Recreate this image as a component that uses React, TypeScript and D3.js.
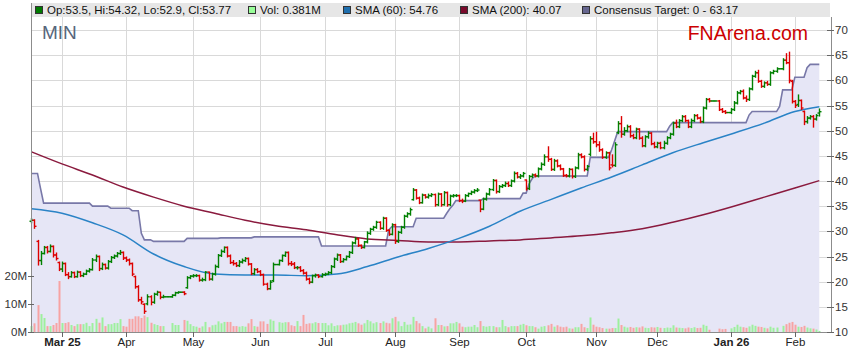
import * as d3 from "d3";

// first bar of the window; bars are weekdays (holidays show as flat bars)
const START = "2025-02-17";

const opens = [
  32.0, 32.2, 28.0, 24.2, 25.6, 26.8, 26.0, 27.0, 25.3, 23.8,
  22.5, 23.6, 21.4, 21.0, 21.8, 21.0, 21.9, 21.2, 21.5, 22.1,
  22.4, 24.3, 25.0, 22.6, 23.4, 22.7, 24.0, 24.8, 25.1, 25.6,
  25.8, 24.7, 24.3, 23.6, 21.0, 19.0, 16.4, 15.5, 15.6, 17.0,
  15.9, 17.5, 17.9, 16.9, 17.0, 17.0, 17.0, 17.3, 17.8, 17.9,
  17.9, 18.8, 20.8, 21.1, 21.2, 21.2, 20.3, 20.4, 21.9, 20.5,
  21.5, 23.0, 25.2, 26.0, 26.8, 25.1, 23.8, 23.6, 23.2, 23.9,
  24.2, 24.6, 23.5, 21.6, 22.4, 22.0, 21.4, 19.5, 18.6, 20.2,
  23.4, 23.4, 24.2, 25.2, 25.8, 23.6, 23.5, 22.8, 22.8, 22.2,
  21.7, 20.5, 19.9, 21.2, 21.3, 21.0, 21.4, 21.5, 21.8, 23.0,
  24.5, 25.3, 24.0, 24.4, 25.0, 25.8, 27.7, 28.5, 27.2, 26.8,
  27.9, 29.6, 30.4, 30.8, 31.8, 30.6, 32.6, 30.2, 29.4, 31.3,
  28.0, 29.8, 30.8, 33.0, 33.5, 36.3, 38.2, 36.6, 35.7, 37.2,
  36.8, 37.1, 37.3, 35.3, 37.4, 35.3, 37.7, 35.3, 37.0, 37.1,
  37.1, 36.1, 36.0, 37.1, 37.5, 37.8, 38.1, 36.2, 34.4, 36.4,
  37.4, 38.3, 40.1, 37.9, 38.9, 39.1, 39.5, 39.1, 40.0, 41.5,
  40.8, 41.0, 40.2, 38.5, 40.9, 41.2, 41.0, 42.4, 43.3, 44.8,
  44.3, 42.3, 44.0, 43.0, 42.4, 41.1, 41.0, 42.3, 40.9, 42.6,
  45.2, 44.8, 42.3, 45.3, 48.4, 47.8, 47.2, 46.2, 44.7, 45.6,
  43.2, 43.1, 49.6, 51.4, 49.3, 50.0, 50.8, 49.0, 48.6, 50.3,
  48.5, 47.0, 48.8, 49.5, 47.4, 46.8, 47.5, 46.6, 47.5, 48.6,
  49.3, 51.5, 50.8, 52.0, 52.8, 52.0, 50.8, 52.0, 53.0, 52.5,
  51.8, 54.5, 56.2, 55.9, 55.9, 55.9, 54.2, 53.8, 53.6, 53.6,
  54.2, 55.5, 57.5, 57.8, 56.5, 56.2, 58.3, 60.8, 61.5, 59.8,
  58.8, 59.5, 59.2, 61.5, 61.8, 62.3, 62.3, 64.0, 63.5, 59.8,
  55.8, 55.2, 56.0, 53.8, 51.8, 52.5, 52.8, 52.3, 53.5,
];

const highs = [
  32.5, 32.3, 28.2, 26.0, 27.0, 27.0, 27.3, 27.1, 25.7, 23.9,
  23.9, 23.7, 21.8, 22.0, 21.9, 22.1, 22.0, 21.7, 22.3, 22.6,
  24.6, 25.3, 25.1, 23.7, 23.5, 24.2, 25.0, 25.3, 25.8, 26.2,
  25.9, 24.9, 24.5, 23.7, 21.1, 19.2, 16.9, 15.6, 17.4, 17.2,
  17.7, 18.1, 17.9, 17.3, 17.0, 17.0, 17.4, 17.9, 18.0, 17.9,
  18.0, 21.0, 21.2, 21.4, 21.4, 21.3, 20.7, 22.0, 21.9, 21.7,
  23.3, 25.4, 26.3, 26.9, 26.9, 25.3, 24.2, 23.8, 24.2, 24.5,
  24.8, 24.7, 23.6, 22.6, 22.6, 22.2, 21.5, 19.7, 20.2, 23.7,
  23.4, 24.3, 25.3, 25.9, 25.9, 24.0, 23.8, 23.0, 23.0, 22.4,
  21.9, 20.7, 21.3, 21.5, 21.4, 21.6, 21.7, 22.0, 23.2, 24.7,
  25.5, 25.4, 24.6, 25.1, 26.0, 27.9, 28.8, 28.6, 27.3, 28.0,
  29.9, 30.6, 31.0, 32.0, 31.9, 32.8, 32.7, 30.3, 31.5, 31.4,
  30.0, 31.0, 33.2, 33.7, 34.6, 38.5, 38.3, 36.8, 37.4, 37.3,
  37.4, 37.5, 37.4, 37.6, 37.5, 37.9, 37.8, 37.2, 37.3, 37.3,
  37.2, 36.4, 37.3, 37.6, 38.0, 38.3, 38.5, 36.2, 36.6, 37.6,
  38.5, 40.3, 40.2, 39.1, 39.3, 39.8, 39.8, 40.2, 41.8, 41.7,
  41.3, 41.7, 40.2, 41.1, 41.4, 41.4, 42.6, 43.6, 45.2, 46.8,
  44.5, 44.3, 44.2, 43.2, 42.5, 41.3, 42.5, 42.4, 42.8, 45.5,
  45.4, 45.0, 43.1, 48.8, 49.5, 49.7, 47.8, 46.4, 45.8, 45.7,
  45.2, 47.6, 51.8, 52.8, 50.6, 51.1, 51.0, 49.3, 50.5, 50.4,
  48.8, 49.0, 49.8, 49.6, 47.7, 47.7, 47.7, 47.9, 48.8, 49.5,
  51.7, 52.1, 52.2, 53.0, 53.0, 52.1, 52.3, 53.2, 53.2, 52.7,
  54.7, 56.4, 56.4, 55.9, 55.9, 56.0, 54.4, 54.0, 53.6, 54.4,
  55.8, 57.8, 58.0, 58.1, 56.9, 58.5, 61.0, 61.8, 62.0, 60.0,
  59.7, 59.8, 61.7, 62.0, 62.5, 62.3, 64.3, 65.3, 65.6, 60.0,
  56.0, 57.1, 56.1, 53.9, 52.8, 53.0, 53.0, 53.2, 54.32,
];

const lows = [
  31.7, 30.6, 23.3, 23.4, 25.5, 25.7, 25.9, 24.9, 24.3, 22.2,
  22.0, 21.2, 20.6, 20.9, 20.8, 20.9, 21.0, 21.0, 21.4, 21.9,
  22.3, 24.0, 22.2, 22.4, 22.5, 22.5, 23.8, 24.6, 24.9, 25.4,
  24.4, 24.0, 23.3, 21.2, 18.7, 16.1, 15.6, 13.7, 15.4, 15.4,
  15.7, 17.3, 16.6, 16.8, 17.0, 17.0, 16.9, 17.2, 17.7, 17.9,
  17.4, 18.7, 20.6, 20.9, 21.0, 20.1, 20.1, 20.2, 20.3, 20.3,
  21.3, 22.8, 25.0, 25.8, 24.9, 23.6, 23.3, 23.0, 23.0, 23.7,
  24.0, 23.3, 21.4, 21.4, 21.8, 21.2, 19.3, 18.4, 18.5, 20.0,
  23.4, 23.3, 24.0, 25.0, 23.3, 23.2, 22.6, 22.5, 22.0, 21.5,
  20.3, 19.6, 19.8, 20.9, 20.8, 20.9, 21.2, 21.4, 21.6, 22.8,
  24.2, 23.8, 23.9, 24.3, 24.8, 25.6, 27.5, 27.0, 26.6, 26.7,
  27.7, 29.4, 30.2, 30.6, 30.4, 30.4, 30.0, 29.2, 29.3, 27.6,
  27.8, 29.6, 30.6, 32.8, 33.2, 36.2, 36.4, 35.5, 35.6, 36.6,
  36.6, 36.9, 35.0, 35.1, 35.0, 35.2, 35.0, 35.1, 36.8, 36.9,
  35.9, 35.7, 35.9, 36.9, 37.3, 37.6, 37.9, 33.9, 34.3, 36.2,
  37.2, 38.1, 37.6, 37.7, 38.7, 38.9, 38.9, 38.9, 39.8, 40.6,
  40.5, 40.8, 38.2, 38.3, 40.7, 40.8, 40.8, 42.2, 43.1, 43.9,
  42.1, 42.1, 42.8, 42.2, 40.9, 40.8, 40.8, 40.6, 40.7, 42.4,
  44.6, 42.0, 42.1, 45.0, 47.5, 46.8, 45.9, 44.5, 44.5, 42.2,
  42.8, 42.9, 49.4, 48.7, 49.1, 49.8, 48.7, 48.4, 48.4, 48.3,
  46.8, 46.8, 48.5, 47.2, 46.6, 46.6, 46.4, 46.4, 47.3, 48.4,
  49.1, 50.6, 50.6, 51.8, 51.8, 50.6, 50.6, 51.8, 52.3, 51.6,
  51.6, 54.3, 55.7, 55.9, 55.9, 54.0, 53.6, 53.4, 53.6, 53.4,
  54.0, 55.3, 57.3, 56.3, 55.8, 56.0, 58.1, 60.6, 59.6, 58.6,
  58.6, 59.0, 59.0, 61.3, 61.6, 62.3, 62.1, 63.3, 59.5, 55.5,
  54.6, 54.8, 54.2, 51.2, 51.5, 52.3, 50.7, 52.1, 52.9,
];

const closes = [
  32.2, 31.0, 24.2, 25.6, 26.8, 26.0, 27.0, 25.3, 24.6, 22.5,
  23.6, 21.4, 21.0, 21.8, 21.0, 21.9, 21.2, 21.5, 22.1, 22.4,
  24.3, 25.0, 22.6, 23.4, 22.7, 24.0, 24.8, 25.1, 25.6, 25.8,
  24.7, 24.3, 23.6, 21.5, 19.0, 16.4, 16.0, 14.1, 17.0, 15.9,
  17.5, 17.9, 16.9, 17.0, 17.0, 17.0, 17.3, 17.8, 17.9, 17.9,
  17.6, 20.8, 21.1, 21.2, 21.2, 20.3, 20.4, 21.9, 20.5, 21.5,
  23.0, 25.2, 26.0, 26.8, 25.1, 23.8, 23.6, 23.2, 23.9, 24.2,
  24.6, 23.5, 21.6, 22.4, 22.0, 21.4, 19.5, 18.6, 19.9, 23.4,
  23.4, 24.2, 25.2, 25.8, 23.6, 23.5, 22.8, 22.8, 22.2, 21.7,
  20.5, 19.9, 21.2, 21.3, 21.0, 21.4, 21.5, 21.8, 23.0, 24.5,
  25.3, 24.0, 24.4, 25.0, 25.8, 27.7, 28.5, 27.2, 26.8, 27.9,
  29.6, 30.4, 30.8, 31.8, 30.6, 32.6, 30.2, 29.4, 31.3, 28.0,
  29.8, 30.8, 33.0, 33.5, 34.3, 38.2, 36.6, 35.7, 37.2, 36.8,
  37.1, 37.3, 35.3, 37.4, 35.3, 37.7, 35.3, 37.0, 37.1, 37.1,
  36.1, 36.0, 37.1, 37.5, 37.8, 38.1, 38.2, 34.4, 36.4, 37.4,
  38.3, 40.1, 37.9, 38.9, 39.1, 39.5, 39.1, 40.0, 41.5, 40.8,
  41.0, 41.5, 38.5, 40.9, 41.2, 41.0, 42.4, 43.3, 44.8, 44.3,
  42.3, 44.0, 43.0, 42.4, 41.1, 41.0, 42.3, 40.9, 42.6, 45.2,
  44.8, 42.3, 42.9, 48.4, 47.8, 47.2, 46.2, 44.7, 45.6, 42.6,
  43.1, 47.2, 51.4, 49.3, 50.0, 50.8, 49.0, 48.6, 50.3, 48.5,
  47.0, 48.8, 49.5, 47.4, 46.8, 47.5, 46.6, 47.5, 48.6, 49.3,
  51.5, 50.8, 52.0, 52.8, 52.0, 50.8, 52.0, 53.0, 52.5, 51.8,
  54.5, 56.2, 55.9, 55.9, 55.9, 54.2, 53.8, 53.6, 53.6, 54.2,
  55.5, 57.5, 57.8, 56.5, 56.2, 58.3, 60.8, 61.5, 59.8, 58.8,
  59.5, 59.2, 61.5, 61.8, 62.3, 62.3, 64.0, 63.5, 60.0, 55.8,
  55.0, 56.0, 54.5, 51.8, 52.5, 52.8, 52.3, 53.0, 53.77,
];

// volume in millions of shares
const volumes = [
  2.1, 3.1, 9.6, 6.4, 5.0, 2.1, 2.1, 2.5, 3.2, 18.2,
  3.2, 3.2, 3.5, 2.5, 2.1, 2.8, 2.8, 2.8, 3.3, 2.1,
  3.2, 4.7, 3.3, 5.2, 2.1, 2.8, 2.8, 3.2, 3.2, 4.6,
  2.1, 1.9, 4.7, 4.7, 5.6, 5.6, 5.0, 5.9, 5.3, 3.3,
  2.8, 2.5, 2.1, 2.1, 0, 0, 3.2, 2.5, 2.5, 0,
  4.3, 4.0, 2.8, 2.1, 1.9, 1.5, 2.0, 3.6, 1.7, 2.4,
  2.6, 3.8, 3.1, 3.6, 3.6, 3.6, 2.1, 2.1, 1.9, 2.1,
  1.9, 3.1, 4.6, 2.1, 1.9, 3.8, 3.8, 2.9, 4.5, 4.0,
  0, 3.5, 3.3, 3.5, 3.5, 2.4, 2.1, 3.9, 2.1, 6.1,
  2.9, 3.1, 3.1, 3.5, 3.2, 3.2, 3.2, 2.4, 3.1, 2.1,
  2.4, 2.4, 2.6, 2.7, 3.1, 3.3, 3.6, 3.1, 2.6, 3.1,
  4.3, 3.8, 3.1, 3.5, 3.2, 3.8, 3.3, 3.1, 4.9, 5.4,
  3.8, 2.1, 3.6, 2.6, 2.7, 5.4, 3.9, 3.1, 2.1, 1.3,
  1.9, 1.3, 4.9, 2.5, 2.5, 2.0, 2.1, 3.1, 3.1, 3.6,
  3.1, 1.9, 1.7, 1.9, 1.9, 2.5, 1.7, 3.9, 2.1, 1.9,
  2.1, 2.1, 1.7, 1.7, 4.3, 2.1, 1.7, 2.1, 2.1, 2.1,
  2.6, 2.9, 2.4, 2.1, 2.1, 1.7, 1.2, 1.9, 2.1, 2.4,
  2.9, 1.9, 2.4, 1.9, 1.7, 1.9, 1.3, 1.2, 1.7, 1.7,
  2.9, 1.7, 1.4, 5.2, 2.6, 1.9, 1.7, 1.4, 1.2, 1.2,
  1.4, 1.4, 4.8, 2.5, 1.9, 1.6, 1.8, 1.5, 1.7, 1.6,
  2.0, 1.5, 1.4, 1.7, 1.6, 1.8, 1.5, 1.4, 1.6, 1.5,
  2.4, 1.6, 1.5, 1.4, 1.3, 1.6, 1.4, 1.7, 1.4, 1.5,
  2.6, 2.2, 0.8, 0, 0, 1.2, 1.0, 1.1, 0, 1.3,
  1.8, 2.6, 1.9, 1.7, 1.5, 2.0, 2.6, 2.2, 1.9, 1.8,
  1.5, 1.3, 1.9, 1.5, 1.6, 0, 2.2, 2.8, 3.3, 3.6,
  2.6, 1.9, 1.8, 2.2, 1.6, 1.3, 1.2, 0.9, 0.381,
];

// moving averages read every 10 bars (bar index -> value)
const smaIdx = [0, 10, 20, 30, 40, 50, 60, 70, 80, 90, 100, 110, 120, 130, 140, 150, 160, 170, 180, 190, 200, 210, 220, 230, 240, 250, 258];
const sma60 = [34.5, 33.6, 31.7, 29.3, 25.5, 23.0, 21.5, 21.3, 21.3, 21.2, 21.5, 23.0, 24.9, 26.6, 28.6, 31.0, 34.0, 36.3, 38.6, 40.8, 43.2, 45.6, 47.6, 49.5, 51.5, 53.8, 54.76];
const sma200 = [45.8, 43.4, 41.2, 38.8, 36.8, 35.0, 33.6, 32.2, 31.1, 30.3, 29.3, 28.5, 28.2, 27.9, 27.9, 28.1, 28.3, 28.7, 29.1, 29.7, 30.5, 31.8, 33.3, 35.0, 36.8, 38.6, 40.07];

// consensus target: [first bar index, value] for each level
const targetRuns: [number, number][] = [
  [0, 41.5], [3, 38.5], [4, 35.6], [20, 35.0], [26, 34.6], [33, 34.1], [36, 29.6],
  [37, 28.3], [40, 28.0], [51, 28.6], [62, 28.7], [73, 28.9], [95, 27.1], [117, 30.3],
  [118, 30.9], [126, 32.6], [136, 33.6], [137, 34.5], [138, 35.2], [139, 36.1],
  [148, 36.5], [161, 37.6], [163, 39.5], [164, 40.5], [165, 41.0], [183, 44.7],
  [190, 46.2], [191, 48.0], [192, 49.8], [209, 50.9], [210, 51.6], [235, 53.1],
  [236, 53.8], [245, 54.8], [246, 58.1], [250, 60.6], [254, 62.5], [255, 63.17],
];

const priceTicks = [10, 15, 20, 25, 30, 35, 40, 45, 50, 55, 60, 65, 70];
const volTicks = [0, 10, 20];
const monthLabels = ["Mar 25", "Apr", "May", "Jun", "Jul", "Aug", "Sep", "Oct", "Nov", "Dec", "Jan 26", "Feb"];
const yearLabels = ["Mar 25", "Jan 26"];

const legend = [
  { text: "Op:53.5, Hi:54.32, Lo:52.9, Cl:53.77", color: "#007a00", x: 35 },
  { text: "Vol: 0.381M", color: "#99ff99", x: 248 },
  { text: "SMA (60): 54.76", color: "#1f6fae", x: 343 },
  { text: "SMA (200): 40.07", color: "#7a0a2c", x: 460 },
  { text: "Consensus Target: 0 - 63.17", color: "#66668f", x: 582 },
];

const FONT = "'Liberation Sans', Arial, sans-serif";
const UP = "#008000";
const DOWN = "#dd0000";

function tradingDays(start: string, n: number) {
  const out: Date[] = [];
  const d = new Date(start + "T00:00:00Z");
  while (out.length < n) {
    const wd = d.getUTCDay();
    if (wd !== 0 && wd !== 6) out.push(new Date(d));
    d.setUTCDate(d.getUTCDate() + 1);
  }
  return out;
}

function expandRuns(runs: [number, number][], n: number) {
  const out: number[] = [];
  let r = 0;
  for (let i = 0; i < n; i++) {
    if (r + 1 < runs.length && i >= runs[r + 1][0]) r++;
    out.push(runs[r][1]);
  }
  return out;
}

export default function App() {
  const W = 859, H = 363;
  const left = 31, right = 831, top = 17, bottom = 332;
  const n = closes.length;
  const dates = tradingDays(START, n);

  const x = d3.scaleLinear().domain([0, n - 1]).range([31.4, 819.3]);
  const yP = d3.scaleLinear().domain([10, 70]).range([bottom, 30]);
  const yV = d3.scaleLinear().domain([0, 20]).range([bottom, 276]);
  const px = (i: number) => Math.round(x(i)) + 0.5;

  // first trading day of each month gets a tick
  const monthStarts: number[] = [];
  let prevMonth = dates[0].getUTCMonth();
  for (let i = 1; i < n; i++) {
    const m = dates[i].getUTCMonth();
    if (m !== prevMonth && volumes[i] > 0) {
      monthStarts.push(i);
      prevMonth = m;
    }
  }

  const target = expandRuns(targetRuns, n);
  const targetArea = d3.area<number>().x((_, i) => x(i)).y0(bottom).y1((v) => yP(v))(target) || "";
  const targetLine = d3.line<number>().x((_, i) => x(i)).y((v) => yP(v))(target) || "";
  const smaLine = (vals: number[]) =>
    d3.line<number>().x((_, k) => x(smaIdx[k])).y((v) => yP(v)).curve(d3.curveMonotoneX)(vals) || "";

  return (
    <svg width={W} height={H} style={{ position: "absolute", left: 0, top: 0, background: "#fff" }} fontFamily={FONT}>
      <rect x={0} y={0} width={W} height={H} fill="#fff" />
      {/* legend strip */}
      <rect x={left} y={3} width={right - left - 1} height={14} fill="#e6e6e6" />

      {/* grid */}
      {priceTicks.filter((p) => p > 10).map((p) => (
        <line key={"h" + p} x1={left} x2={right} y1={Math.round(yP(p)) + 0.5} y2={Math.round(yP(p)) + 0.5} stroke="#d9d9d9" />
      ))}
      {monthStarts.map((i) => (
        <line key={"v" + i} x1={px(i)} x2={px(i)} y1={top} y2={bottom} stroke="#d9d9d9" />
      ))}

      {/* consensus target */}
      <path d={targetArea} fill="#e6e6f6" />
      <path d={targetLine} fill="none" stroke="#7878a8" strokeWidth={1.6} />

      {/* volume */}
      {volumes.map((v, i) =>
        v > 0 ? (
          <rect
            key={"vol" + i}
            x={Math.round(x(i)) - 0.5}
            y={yV(v)}
            width={2}
            height={bottom - yV(v)}
            fill={closes[i] >= opens[i] ? "#9df09d" : "#f7a3a3"}
          />
        ) : null
      )}

      {/* moving averages */}
      <path d={smaLine(sma200)} fill="none" stroke="#8a1a3e" strokeWidth={1.5} />
      <path d={smaLine(sma60)} fill="none" stroke="#2a83c6" strokeWidth={1.5} />

      {/* OHLC bars */}
      {closes.map((c, i) => {
        const o = opens[i];
        const hi = Math.max(highs[i], o, c);
        const lo = Math.min(lows[i], o, c);
        const col = c >= o ? UP : DOWN;
        const cx = px(i);
        return (
          <g key={"b" + i} stroke={col} strokeWidth={1.4}>
            <line x1={cx} x2={cx} y1={yP(hi) - 0.5} y2={yP(lo) + 0.5} />
            <line x1={cx - 2} x2={cx} y1={yP(o)} y2={yP(o)} />
            <line x1={cx} x2={cx + 2} y1={yP(c)} y2={yP(c)} />
          </g>
        );
      })}

      {/* frame and axes */}
      <line x1={left + 0.5} x2={left + 0.5} y1={3} y2={bottom} stroke="#8c8c8c" />
      <line x1={right + 0.5} x2={right + 0.5} y1={17} y2={bottom} stroke="#8c8c8c" />
      <line x1={left} x2={right + 1} y1={bottom + 0.5} y2={bottom + 0.5} stroke="#8c8c8c" />

      {priceTicks.map((p) => (
        <g key={"pt" + p}>
          <line x1={827} x2={834} y1={Math.round(yP(p)) + 0.5} y2={Math.round(yP(p)) + 0.5} stroke="#666" />
          <text x={835} y={yP(p)} dy="0.35em" fontSize={11.5} fill="#333">{p}</text>
        </g>
      ))}

      {volTicks.map((v) => (
        <g key={"vt" + v}>
          <line x1={28} x2={34} y1={Math.round(yV(v)) + 0.5} y2={Math.round(yV(v)) + 0.5} stroke="#666" />
          <text x={27} y={yV(v)} dy="0.35em" fontSize={11.5} fill="#333" textAnchor="end">{v}M</text>
        </g>
      ))}

      {monthStarts.map((i, k) => (
        <g key={"mt" + i}>
          <line x1={px(i)} x2={px(i)} y1={bottom} y2={bottom + 5} stroke="#666" />
          <text
            x={px(i)}
            y={346}
            fontSize={11.5}
            textAnchor="middle"
            fill="#222"
            fontWeight={yearLabels.includes(monthLabels[k]) ? "bold" : "normal"}
          >
            {monthLabels[k]}
          </text>
        </g>
      ))}

      {/* legend */}
      {legend.map((d) => (
        <g key={d.text}>
          <rect x={d.x + 0.5} y={6.5} width={7} height={7} fill={d.color} stroke="#333" />
          <text x={d.x + 12} y={14} fontSize={11.5} fill="#111">{d.text}</text>
        </g>
      ))}

      <text x={42} y={39} fontSize={19} fill="#56667c">MIN</text>
      <text x={808} y={40} fontSize={19.5} fill="#cc0000" textAnchor="end">FNArena.com</text>
    </svg>
  );
}
